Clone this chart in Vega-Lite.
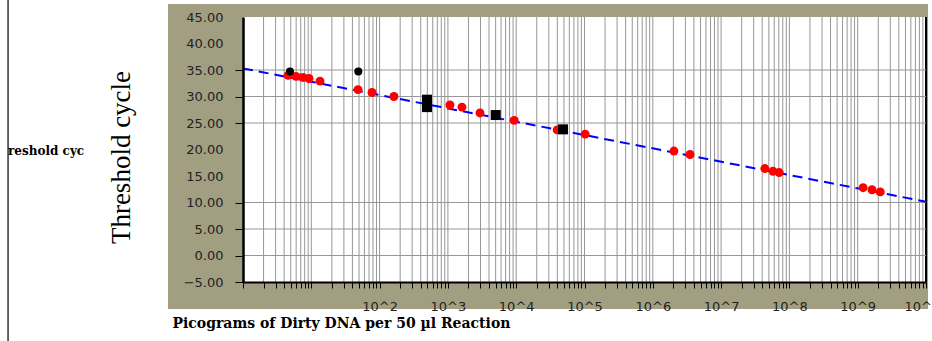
{
  "$schema": "https://vega.github.io/schema/vega-lite/v6.json",
  "width": 683,
  "height": 265,
  "autosize": {"type": "none"},
  "padding": {"left": 243, "top": 17, "right": 6, "bottom": 59},
  "background": "white",
  "config": {"view": {"stroke": null}},
  "title": {
    "text": "reshold cyc",
    "orient": "top",
    "anchor": "start",
    "frame": "group",
    "align": "left",
    "baseline": "alphabetic",
    "offset": 0,
    "dx": -235,
    "dy": 169,
    "font": "DejaVu Serif",
    "fontSize": 12,
    "fontWeight": "bold",
    "color": "black"
  },
  "datasets": {
    "frame": [{"x0": 0.0798, "x1": 1.07e10, "y0": -10.1, "y1": 47.45}],
    "plotbg": [{"x0": 1, "x1": 1e10, "y0": -5, "y1": 45}],
    "border": [{"bx": 0.000363, "by0": -16.3, "by1": 48.4}],
    "vgrid": [{"v":1},{"v":2},{"v":3},{"v":4},{"v":5},{"v":6},{"v":7},{"v":8},{"v":9},
      {"v":10},{"v":20},{"v":30},{"v":40},{"v":50},{"v":60},{"v":70},{"v":80},{"v":90},
      {"v":100},{"v":200},{"v":300},{"v":400},{"v":500},{"v":600},{"v":700},{"v":800},{"v":900},
      {"v":1000},{"v":2000},{"v":3000},{"v":4000},{"v":5000},{"v":6000},{"v":7000},{"v":8000},{"v":9000},
      {"v":1e4},{"v":2e4},{"v":3e4},{"v":4e4},{"v":5e4},{"v":6e4},{"v":7e4},{"v":8e4},{"v":9e4},
      {"v":1e5},{"v":2e5},{"v":3e5},{"v":4e5},{"v":5e5},{"v":6e5},{"v":7e5},{"v":8e5},{"v":9e5},
      {"v":1e6},{"v":2e6},{"v":3e6},{"v":4e6},{"v":5e6},{"v":6e6},{"v":7e6},{"v":8e6},{"v":9e6},
      {"v":1e7},{"v":2e7},{"v":3e7},{"v":4e7},{"v":5e7},{"v":6e7},{"v":7e7},{"v":8e7},{"v":9e7},
      {"v":1e8},{"v":2e8},{"v":3e8},{"v":4e8},{"v":5e8},{"v":6e8},{"v":7e8},{"v":8e8},{"v":9e8},
      {"v":1e9},{"v":2e9},{"v":3e9},{"v":4e9},{"v":5e9},{"v":6e9},{"v":7e9},{"v":8e9},{"v":9e9},
      {"v":1e10}],
    "hgrid": [{"h":0},{"h":5},{"h":10},{"h":25},{"h":30},{"h":35}],
    "fit": [{"pg": 1, "ct": 35.3}, {"pg": 1e10, "ct": 10.15}],
    "points": [
      {"pg": 4.57, "ct": 34.0, "group": "Standard"},
      {"pg": 5.97, "ct": 33.8, "group": "Standard"},
      {"pg": 7.55, "ct": 33.6, "group": "Standard"},
      {"pg": 9.25, "ct": 33.4, "group": "Standard"},
      {"pg": 13.4, "ct": 32.9, "group": "Standard"},
      {"pg": 48.3, "ct": 31.3, "group": "Standard"},
      {"pg": 77.4, "ct": 30.75, "group": "Standard"},
      {"pg": 162, "ct": 30.0, "group": "Standard"},
      {"pg": 1072, "ct": 28.4, "group": "Standard"},
      {"pg": 1607, "ct": 28.0, "group": "Standard"},
      {"pg": 2951, "ct": 26.9, "group": "Standard"},
      {"pg": 9333, "ct": 25.5, "group": "Standard"},
      {"pg": 39810, "ct": 23.7, "group": "Standard"},
      {"pg": 102300, "ct": 22.9, "group": "Standard"},
      {"pg": 2040000, "ct": 19.7, "group": "Standard"},
      {"pg": 3510000, "ct": 19.05, "group": "Standard"},
      {"pg": 43700000, "ct": 16.4, "group": "Standard"},
      {"pg": 57500000, "ct": 15.9, "group": "Standard"},
      {"pg": 70800000, "ct": 15.65, "group": "Standard"},
      {"pg": 1200000000, "ct": 12.8, "group": "Standard"},
      {"pg": 1620000000, "ct": 12.4, "group": "Standard"},
      {"pg": 2140000000, "ct": 12.0, "group": "Standard"},
      {"pg": 4.88, "ct": 34.7, "group": "Sample"},
      {"pg": 48.8, "ct": 34.7, "group": "Sample"},
      {"pg": 494, "ct": 29.4, "group": "Control"},
      {"pg": 494, "ct": 28.0, "group": "Control"},
      {"pg": 5012, "ct": 26.5, "group": "Control"},
      {"pg": 48420, "ct": 23.8, "group": "Control"}
    ]
  },
  "layer": [
    {
      "data": {"name": "frame"},
      "mark": {"type": "rect", "fill": "#a19e82"},
      "encoding": {
        "x": {"field": "x0", "type": "quantitative",
          "scale": {"type": "log", "domain": [1, 1e10]},
          "axis": {
            "zindex": 1,
            "title": "Picograms of Dirty DNA per 50 µl Reaction",
            "titleFont": "DejaVu Serif",
            "titleFontSize": 14,
            "titleFontWeight": "bold",
            "titleColor": "black",
            "titleX": -71,
            "titleY": 45,
            "titleAlign": "left",
            "titleBaseline": "alphabetic",
            "grid": false,
            "tickCount": 200,
            "values": [1,2,3,4,5,6,7,8,9,10,20,30,40,50,60,70,80,90,100,200,300,400,500,600,700,800,900,1000,2000,3000,4000,5000,6000,7000,8000,9000,1e4,2e4,3e4,4e4,5e4,6e4,7e4,8e4,9e4,1e5,2e5,3e5,4e5,5e5,6e5,7e5,8e5,9e5,1e6,2e6,3e6,4e6,5e6,6e6,7e6,8e6,9e6,1e7,2e7,3e7,4e7,5e7,6e7,7e7,8e7,9e7,1e8,2e8,3e8,4e8,5e8,6e8,7e8,8e8,9e8,1e9,2e9,3e9,4e9,5e9,6e9,7e9,8e9,9e9,1e10],
            "labelExpr": "(datum.value >= 99 && abs(log(datum.value)/LN10 - round(log(datum.value)/LN10)) < 0.001) ? '10^' + round(log(datum.value)/LN10) : ''",
            "labelOverlap": false,
            "labelFlush": false,
            "labelBound": false,
            "labelFont": "DejaVu Sans",
            "labelFontSize": 13,
            "labelColor": "#222222",
            "labelPadding": 12,
            "tickSize": 6,
            "tickColor": "black",
            "tickWidth": 1,
            "domainColor": "black",
            "domainWidth": 2
          }
        },
        "x2": {"field": "x1"},
        "y": {"field": "y0", "type": "quantitative",
          "scale": {"domain": [-5, 45], "nice": false, "zero": false},
          "axis": {
            "zindex": 1,
            "title": "Threshold cycle",
            "titleFont": "Liberation Serif",
            "titleFontSize": 27,
            "titleFontWeight": "normal",
            "titleColor": "black",
            "titleAngle": 270,
            "titleX": -122,
            "titleY": 140,
            "titleAlign": "center",
            "titleBaseline": "middle",
            "grid": false,
            "tickCount": 50,
            "values": [-5, 0, 5, 10, 15, 20, 25, 30, 35, 40, 45],
            "format": ".2f",
            "labelOverlap": false,
            "labelFlush": false,
            "labelFont": "DejaVu Sans",
            "labelFontSize": 13,
            "labelColor": "#222222",
            "labelPadding": 12,
            "tickSize": 8,
            "tickColor": "black",
            "tickOpacity": {"condition": {"test": "datum.value == 45 || datum.value == 40 || datum.value == 20 || datum.value == 15", "value": 0}, "value": 1},
            "domainColor": "black",
            "domainWidth": 2.5
          }
        },
        "y2": {"field": "y1"}
      }
    },
    {
      "data": {"name": "plotbg"},
      "mark": {"type": "rect", "fill": "white"},
      "encoding": {
        "x": {"field": "x0", "type": "quantitative", "scale": {"type": "log", "domain": [1, 1e10]}},
        "x2": {"field": "x1"},
        "y": {"field": "y0", "type": "quantitative", "scale": {"domain": [-5, 45], "nice": false, "zero": false}},
        "y2": {"field": "y1"}
      }
    },
    {
      "data": {"name": "border"},
      "mark": {"type": "rule", "color": "black", "strokeWidth": 1.2},
      "encoding": {
        "x": {"field": "bx", "type": "quantitative", "scale": {"type": "log", "domain": [1, 1e10]}},
        "y": {"field": "by0", "type": "quantitative", "scale": {"domain": [-5, 45], "nice": false, "zero": false}},
        "y2": {"field": "by1"}
      }
    },
    {
      "data": {"name": "vgrid"},
      "mark": {"type": "rule"},
      "encoding": {
        "x": {"field": "v", "type": "quantitative", "scale": {"type": "log", "domain": [1, 1e10]}},
        "color": {"condition": {"test": "datum.v >= 1e10", "value": "black"}, "value": "#979797"},
        "strokeWidth": {"condition": {"test": "datum.v >= 1e10", "value": 2}, "value": 1}
      }
    },
    {
      "data": {"name": "hgrid"},
      "mark": {"type": "rule", "color": "#979797", "strokeWidth": 1},
      "encoding": {
        "y": {"field": "h", "type": "quantitative", "scale": {"domain": [-5, 45], "nice": false, "zero": false}}
      }
    },
    {
      "data": {"name": "fit"},
      "mark": {"type": "line", "color": "#0000ff", "strokeWidth": 2, "strokeDash": [10, 6]},
      "encoding": {
        "x": {"field": "pg", "type": "quantitative", "scale": {"type": "log", "domain": [1, 1e10]}},
        "y": {"field": "ct", "type": "quantitative", "scale": {"domain": [-5, 45], "nice": false, "zero": false}}
      }
    },
    {
      "data": {"name": "points"},
      "transform": [{"filter": "datum.group == 'Standard'"}],
      "mark": {"type": "point", "shape": "circle", "filled": true, "color": "#ff0000", "opacity": 1, "size": 80},
      "encoding": {
        "x": {"field": "pg", "type": "quantitative", "scale": {"type": "log", "domain": [1, 1e10]}},
        "y": {"field": "ct", "type": "quantitative", "scale": {"domain": [-5, 45], "nice": false, "zero": false}}
      }
    },
    {
      "data": {"name": "points"},
      "transform": [{"filter": "datum.group == 'Sample'"}],
      "mark": {"type": "point", "shape": "circle", "filled": true, "color": "#000000", "opacity": 1, "size": 64},
      "encoding": {
        "x": {"field": "pg", "type": "quantitative", "scale": {"type": "log", "domain": [1, 1e10]}},
        "y": {"field": "ct", "type": "quantitative", "scale": {"domain": [-5, 45], "nice": false, "zero": false}}
      }
    },
    {
      "data": {"name": "points"},
      "transform": [{"filter": "datum.group == 'Control'"}],
      "mark": {"type": "point", "shape": "square", "filled": true, "color": "#000000", "opacity": 1, "size": 100},
      "encoding": {
        "x": {"field": "pg", "type": "quantitative", "scale": {"type": "log", "domain": [1, 1e10]}},
        "y": {"field": "ct", "type": "quantitative", "scale": {"domain": [-5, 45], "nice": false, "zero": false}}
      }
    }
  ]
}
